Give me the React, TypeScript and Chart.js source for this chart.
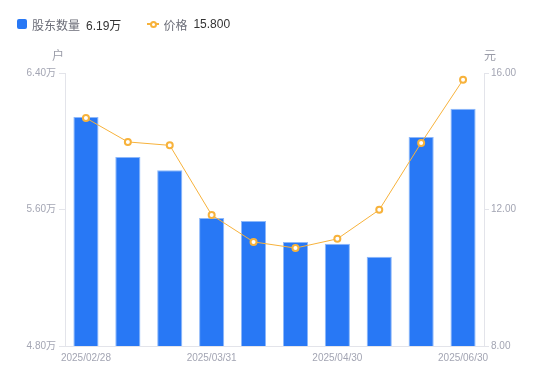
import React, { useEffect, useRef } from "react";
import { Chart, registerables } from "chart.js";

Chart.register(...registerables);

const categories = [
  "2025/02/28", "2025/03/10", "2025/03/20", "2025/03/31", "2025/04/10",
  "2025/04/20", "2025/04/30", "2025/05/31", "2025/06/20", "2025/06/30",
];
const shownLabelIndexes = [0, 3, 6, 9];
const holders = [6.142, 5.908, 5.830, 5.550, 5.532, 5.410, 5.400, 5.323, 6.025, 6.190];
const prices = [14.68, 13.98, 13.88, 11.84, 11.05, 10.87, 11.14, 11.99, 13.95, 15.8];
const leftTicks = [4.8, 5.6, 6.4];
const rightTicks = [8, 12, 16];

const FONT = '"Liberation Sans", "Noto Sans CJK SC", Arial, sans-serif';
const BLUE = "#2878f5";
const ORANGE = "#f7b23b";
const AXIS = "#e3e4ea";
const TICK_TEXT = "#a3a5b3";

const axisTitles = {
  id: "axisTitles",
  afterDraw(chart: any) {
    const { ctx, chartArea } = chart;
    ctx.save();
    ctx.font = `12px ${FONT}`;
    ctx.fillStyle = "#9a9ca8";
    ctx.textAlign = "center";
    ctx.textBaseline = "middle";
    ctx.fillText("户", chartArea.left - 7, chartArea.top - 16);
    ctx.fillText("元", chartArea.right + 6, chartArea.top - 16);
    ctx.restore();
  },
};

export default function App() {
  const ref = useRef<HTMLCanvasElement>(null);
  useEffect(() => {
    document.body.style.margin = "0";
    const chart = new Chart(ref.current!, {
      type: "bar",
      data: {
        labels: categories,
        datasets: [
          {
            type: "line",
            label: "价格",
            data: prices,
            yAxisID: "y1",
            borderColor: ORANGE,
            borderWidth: 1,
            pointRadius: 3,
            pointBorderWidth: 2,
            pointBackgroundColor: "#ffffff",
            pointBorderColor: ORANGE,
            tension: 0,
            order: 0,
          } as any,
          {
            type: "bar",
            label: "股东数量",
            data: holders,
            yAxisID: "y",
            backgroundColor: BLUE,
            borderColor: "#8db8fa",
            borderWidth: 1,
            barPercentage: 0.6,
            categoryPercentage: 1,
            order: 1,
          },
        ],
      },
      options: {
        responsive: false,
        animation: false,
        layout: { padding: { top: 73, left: 0, right: 0, bottom: 0 } },
        plugins: { legend: { display: false }, tooltip: { enabled: false } },
        scales: {
          x: {
            offset: true,
            grid: { display: true, drawOnChartArea: false, drawTicks: false, color: AXIS },
            border: { display: true, color: AXIS },
            ticks: {
              autoSkip: false,
              maxRotation: 0,
              padding: 6,
              color: TICK_TEXT,
              font: { size: 10, family: FONT },
              callback: (_v: any, i: number) =>
                shownLabelIndexes.includes(i) ? categories[i] : "",
            },
            afterFit: (s: any) => { s.height = 35; },
          },
          y: {
            position: "left",
            min: leftTicks[0],
            max: leftTicks[leftTicks.length - 1],
            afterBuildTicks: (s: any) => { s.ticks = leftTicks.map((v) => ({ value: v })); },
            grid: { drawOnChartArea: false, drawTicks: true, tickLength: 6, color: AXIS },
            border: { display: true, color: AXIS },
            ticks: {
              padding: 3,
              color: TICK_TEXT,
              font: { size: 10, family: FONT },
              callback: (v: any) => Number(v).toFixed(2) + "万",
            },
            afterFit: (s: any) => { s.width = 65; },
          },
          y1: {
            position: "right",
            min: rightTicks[0],
            max: rightTicks[rightTicks.length - 1],
            afterBuildTicks: (s: any) => { s.ticks = rightTicks.map((v) => ({ value: v })); },
            grid: { drawOnChartArea: false, drawTicks: true, tickLength: 5, color: AXIS },
            border: { display: true, color: AXIS },
            ticks: {
              padding: 2,
              color: TICK_TEXT,
              font: { size: 10, family: FONT },
              callback: (v: any) => Number(v).toFixed(2),
            },
            afterFit: (s: any) => { s.width = 66; },
          },
        },
      },
      plugins: [axisTitles],
    });
    return () => chart.destroy();
  }, []);

  const legendText: React.CSSProperties = { fontFamily: FONT, fontSize: 12, color: "#6b6d78" };
  const legendVal: React.CSSProperties = { fontFamily: FONT, fontSize: 12, color: "#333333", marginLeft: 6 };

  return (
    <div style={{ position: "relative", width: 550, height: 381, background: "#fff" }}>
      <canvas ref={ref} width={550} height={381} style={{ position: "absolute", left: 0, top: 0 }} />
      <div style={{ position: "absolute", left: 17, top: 16, display: "flex", alignItems: "center", height: 16 }}>
        <span style={{ display: "inline-block", width: 10, height: 10, background: BLUE, borderRadius: 2, marginRight: 5 }} />
        <span style={legendText}>股东数量</span>
        <span style={legendVal}>6.19万</span>
        <span style={{ position: "relative", display: "inline-block", width: 12, height: 10, marginLeft: 26, marginRight: 4 }}>
          <span style={{ position: "absolute", left: 0, top: 4, width: 12, height: 1.5, background: ORANGE }} />
          <span style={{ position: "absolute", left: 3, top: 2, width: 3, height: 3, border: `2px solid ${ORANGE}`, borderRadius: "50%", background: "#fff" }} />
        </span>
        <span style={legendText}>价格</span>
        <span style={legendVal}>15.800</span>
      </div>
    </div>
  );
}
